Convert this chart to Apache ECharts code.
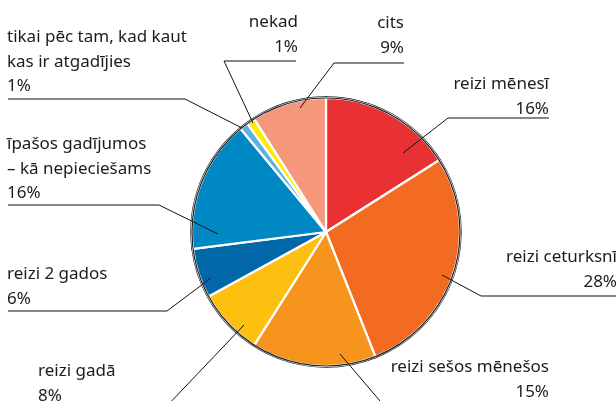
<!DOCTYPE html>
<html>
<head>
<meta charset="utf-8">
<script src="https://cdn.jsdelivr.net/npm/echarts@6/dist/echarts.min.js"></script>
<style>
  html, body { margin: 0; padding: 0; background: #fff; }
  #chart { width: 616px; height: 401px; }
</style>
</head>
<body>
<div id="chart"></div>
<script>
// atbildes, pulksteņrādītāja virzienā no augšas
var categories = [
    'reizi mēnesī',
    'reizi ceturksnī',
    'reizi sešos mēnešos',
    'reizi gadā',
    'reizi 2 gados',
    'īpašos gadījumos\n– kā nepieciešams',
    'tikai pēc tam, kad kaut\nkas ir atgadījies',
    'nekad',
    'cits'
];
var values = [16, 28, 15, 8, 6, 16, 1, 1, 9];
var colors = ['#e93133', '#f36b21', '#f7941d', '#fdc010', '#0068a8', '#0088c4', '#5bb2e0', '#ffec00', '#f4977a'];

// etiķešu izvietojums: teksta punkts, līdzinājums, līnijas punkti
var labelPos = [
    { x: 549, y: 72,  align: 'right', line: [[403, 153], [448, 118], [549, 118]] },
    { x: 617, y: 245, align: 'right', line: [[442, 275], [481, 296], [616, 296]] },
    { x: 549, y: 355, align: 'right', line: [[340, 354], [386, 408], [549, 408]] },
    { x: 38,  y: 359, align: 'left',  line: [[244, 325], [165, 408], [38, 408]] },
    { x: 7,   y: 262, align: 'left',  line: [[211, 278], [167, 311], [8, 311]] },
    { x: 7,   y: 132, align: 'left',  line: [[218, 234], [159, 205], [8, 205]] },
    { x: 7,   y: 25,  align: 'left',  line: [[242, 128], [185, 99], [8, 99]] },
    { x: 298, y: 10,  align: 'right', line: [[253, 123], [224, 61], [296, 61]] },
    { x: 404, y: 11,  align: 'right', line: [[300, 108], [334, 63], [404, 63]] }
];

var pieCenter = [326, 232];
var pieRadius = 134;

var chart = echarts.init(document.getElementById('chart'));

var data = categories.map(function (name, i) {
    return { name: name, value: values[i], itemStyle: { color: colors[i] } };
});

// caurspīdīgs slānis tikai etiķetēm, lai līnijas būtu virs sektoriem
var labelData = categories.map(function (name, i) {
    return { name: name, value: values[i] };
});

chart.setOption({
    animation: false,
    series: [
        {
            type: 'pie',
            silent: true,
            center: pieCenter,
            radius: pieRadius,
            startAngle: 90,
            label: { show: false },
            labelLine: { show: false },
            itemStyle: { borderColor: '#222', borderWidth: 3.4 },
            data: data
        },
        {
            type: 'pie',
            silent: true,
            center: pieCenter,
            radius: pieRadius,
            startAngle: 90,
            itemStyle: { borderColor: '#fff', borderWidth: 2.2 },
            label: { show: false },
            labelLine: { show: false },
            data: data
        },
        {
            type: 'pie',
            silent: true,
            z: 5,
            center: pieCenter,
            radius: pieRadius,
            startAngle: 90,
            itemStyle: { color: 'rgba(0,0,0,0)', borderWidth: 0 },
            label: {
                formatter: '{b}\n{c}%',
                fontFamily: 'Noto Sans',
                fontSize: 17,
                lineHeight: 24.5,
                color: '#1e1b1c',
                overflow: 'none'
            },
            labelLine: {
                show: true,
                lineStyle: { color: '#111', width: 1 }
            },
            labelLayout: function (params) {
                var p = labelPos[params.dataIndex];
                return {
                    x: p.x,
                    y: p.y,
                    align: p.align,
                    verticalAlign: 'top',
                    labelLinePoints: p.line
                };
            },
            data: labelData
        }
    ],
    graphic: [{
        type: 'circle',
        silent: true,
        z: 100,
        shape: { cx: pieCenter[0], cy: pieCenter[1], r: pieRadius },
        style: { fill: 'none', stroke: '#222', lineWidth: 1.2 }
    }]
});
</script>
</body>
</html>
